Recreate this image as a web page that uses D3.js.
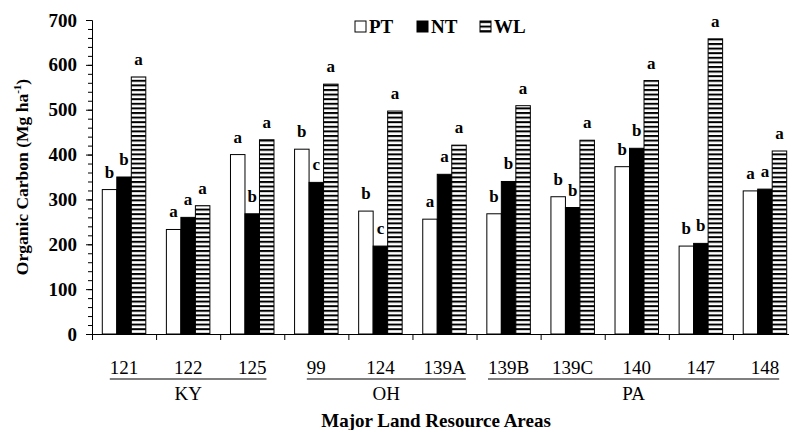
<!DOCTYPE html>
<html>
<head>
<meta charset="utf-8">
<script src="https://cdn.jsdelivr.net/npm/d3@7"></script>
<style>
  body { margin: 0; background: #fff; }
  text { font-family: "Liberation Serif", "Times New Roman", serif; fill: #000; }
</style>
</head>
<body>
<div id="chart"></div>
<script>
// Chart data
var mlra = ["121", "122", "125", "99", "124", "139A", "139B", "139C", "140", "147", "148"];
var stateOf = ["KY", "KY", "KY", "OH", "OH", "OH", "PA", "PA", "PA", "PA", "PA"];
var stateNames = ["KY", "OH", "PA"];
var seriesNames = ["PT", "NT", "WL"];
var ptValues = [322, 233, 400, 412, 274, 256, 268, 306, 373, 196, 319];
var ntValues = [350, 260, 268, 338, 196, 356, 340, 282, 414, 202, 323];
var wlValues = [573, 286, 433, 557, 497, 421, 509, 432, 565, 658, 408];
var ptLetters = ["b", "a", "a", "b", "b", "a", "b", "b", "b", "b", "a"];
var ntLetters = ["b", "a", "b", "c", "c", "a", "b", "b", "b", "b", "a"];
var wlLetters = ["a", "a", "a", "a", "a", "a", "a", "a", "a", "a", "a"];
var yTicks = [0, 100, 200, 300, 400, 500, 600, 700];

var svgWidth = 789;
var svgHeight = 430;
var margin = { top: 20, right: -8, bottom: 96, left: 92 };
var width = svgWidth - margin.left - margin.right;
var height = svgHeight - margin.top - margin.bottom;

var svg = d3.select("#chart")
  .append("svg")
  .attr("width", svgWidth)
  .attr("height", svgHeight);

// striped fill for WL
var defs = svg.append("defs");
var pat = defs.append("pattern")
  .attr("id", "stripes")
  .attr("patternUnits", "userSpaceOnUse")
  .attr("width", 10)
  .attr("height", 4.6);
pat.append("rect").attr("width", 10).attr("height", 4.6).attr("fill", "#fff");
pat.append("rect").attr("width", 10).attr("height", 2).attr("fill", "#000");

var chartGroup = svg.append("g")
  .attr("transform", `translate(${margin.left}, ${margin.top})`);

// scales
var x0 = d3.scaleBand()
  .domain(mlra)
  .range([0, width])
  .paddingInner(0)
  .paddingOuter(0);

var x1 = d3.scaleBand()
  .domain(seriesNames)
  .range([0, x0.bandwidth()])
  .paddingInner(0)
  .paddingOuter(0.71);

var yScale = d3.scaleLinear()
  .domain([0, 700])
  .range([height, 0]);

var fills = { PT: "#fff", NT: "#000", WL: "url(#stripes)" };

var rows = mlra.map(function(m, i) {
  return [
    { key: "PT", mlra: m, value: ptValues[i], letter: ptLetters[i] },
    { key: "NT", mlra: m, value: ntValues[i], letter: ntLetters[i] },
    { key: "WL", mlra: m, value: wlValues[i], letter: wlLetters[i] }
  ];
});

// bars
var groups = chartGroup.selectAll(".grp")
  .data(rows)
  .enter()
  .append("g")
  .attr("class", "grp")
  .attr("transform", (d, i) => `translate(${x0(mlra[i])}, 0)`);

groups.selectAll("rect")
  .data(d => d)
  .enter()
  .append("rect")
  .attr("x", d => x1(d.key))
  .attr("y", d => yScale(d.value))
  .attr("width", x1.bandwidth())
  .attr("height", d => height - yScale(d.value))
  .attr("fill", d => fills[d.key])
  .attr("stroke", "#000")
  .attr("stroke-width", 1);

groups.selectAll(".letter")
  .data(d => d)
  .enter()
  .append("text")
  .attr("class", "letter")
  .attr("x", d => x1(d.key) + x1.bandwidth() / 2)
  .attr("y", d => yScale(d.value) - 12)
  .attr("text-anchor", "middle")
  .style("font-size", "17px")
  .style("font-weight", "bold")
  .text(d => d.letter);

// y axis, major + minor ticks
var yMinor = chartGroup.append("g")
  .call(d3.axisLeft(yScale).tickValues(d3.range(0, 701, 20)).tickSize(4).tickFormat(""));
yMinor.select(".domain").remove();

var yAxis = chartGroup.append("g")
  .call(d3.axisLeft(yScale).tickValues(yTicks).tickSize(6).tickPadding(9));
yAxis.selectAll("text")
  .style("font-size", "19px")
  .style("font-weight", "bold")
  .style("font-family", "'Liberation Serif', serif");

// x axis: boundary ticks and category labels
var xEdges = d3.scaleLinear().domain([0, mlra.length]).range([0, width]);
chartGroup.append("g")
  .attr("transform", `translate(0, ${height})`)
  .call(d3.axisBottom(xEdges).tickValues(d3.range(0, mlra.length + 1)).tickSize(6).tickFormat(""));

var xAxis = chartGroup.append("g")
  .attr("transform", `translate(0, ${height})`)
  .call(d3.axisBottom(x0).tickSize(0).tickPadding(26.5));
xAxis.select(".domain").remove();
xAxis.selectAll("text")
  .style("font-size", "19px")
  .style("font-family", "'Liberation Serif', serif");

chartGroup.selectAll(".domain, .tick line").attr("stroke", "#000");

// state brackets under the labels
var labelNodes = xAxis.selectAll(".tick text").nodes();
stateNames.forEach(function(s) {
  var idx = stateOf.map((v, i) => v === s ? i : -1).filter(i => i >= 0);
  var first = labelNodes[idx[0]].getBoundingClientRect();
  var last = labelNodes[idx[idx.length - 1]].getBoundingClientRect();
  var left = first.left - margin.left;
  var right = last.right - margin.left;
  chartGroup.append("line")
    .attr("x1", left)
    .attr("x2", right)
    .attr("y1", height + 45)
    .attr("y2", height + 45)
    .attr("stroke", "#555")
    .attr("stroke-width", 1.5);
  chartGroup.append("text")
    .attr("x", (left + right) / 2)
    .attr("y", height + 66)
    .attr("text-anchor", "middle")
    .style("font-size", "19px")
    .text(s);
});

// axis titles
chartGroup.append("text")
  .attr("x", 344)
  .attr("y", height + 93)
  .attr("text-anchor", "middle")
  .style("font-size", "19px")
  .style("font-weight", "bold")
  .text("Major Land Resource Areas");

var yLabel = svg.append("text")
  .attr("transform", "rotate(-90)")
  .attr("x", -177)
  .attr("y", 28)
  .attr("text-anchor", "middle")
  .style("font-size", "17.5px")
  .style("font-weight", "bold");
yLabel.append("tspan").text("Organic Carbon (Mg ha");
yLabel.append("tspan").attr("dy", -7).style("font-size", "11px").text("-1");
yLabel.append("tspan").attr("dy", 7).text(")");

// legend
var legendX = [355, 417, 480];
var legend = svg.selectAll(".legend")
  .data(seriesNames)
  .enter()
  .append("g")
  .attr("class", "legend")
  .attr("transform", (d, i) => `translate(${legendX[i]}, 21)`);

legend.append("rect")
  .attr("width", 11)
  .attr("height", 11)
  .attr("fill", d => d === "WL" ? "url(#stripes)" : fills[d])
  .attr("stroke", "#000");

legend.append("text")
  .attr("x", 14)
  .attr("y", 12)
  .style("font-size", "19px")
  .style("font-weight", "bold")
  .text(d => d);
</script>
</body>
</html>
